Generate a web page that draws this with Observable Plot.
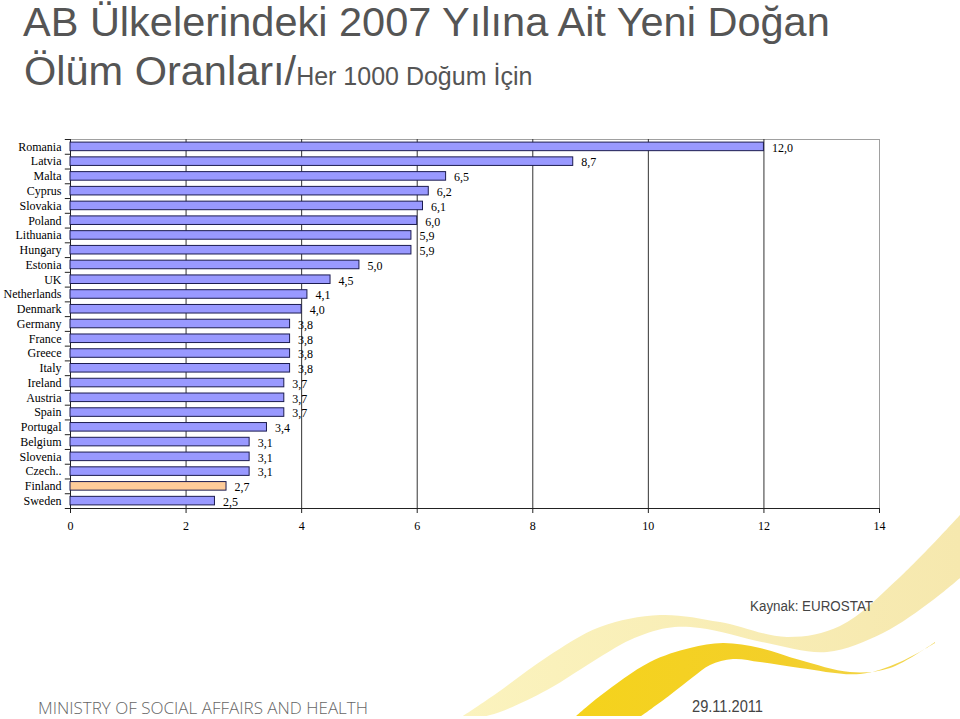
<!DOCTYPE html>
<html>
<head>
<meta charset="utf-8">
<script src="https://cdn.jsdelivr.net/npm/d3@7"></script>
<script src="https://cdn.jsdelivr.net/npm/@observablehq/plot@0.6"></script>
<style>
  html, body { margin: 0; padding: 0; background: #fff; }
  #wrap { position: relative; width: 960px; height: 719px; overflow: hidden; }
  #decor, #chart { position: absolute; left: 0; top: 0; }
  #chart svg { display: block; }
</style>
</head>
<body>
<div id="wrap">
  <svg id="decor" width="960" height="719"></svg>
  <div id="chart"></div>
</div>
<script>
// ---- data ----
const countries = ["Romania","Latvia","Malta","Cyprus","Slovakia","Poland","Lithuania","Hungary","Estonia","UK","Netherlands","Denmark","Germany","France","Greece","Italy","Ireland","Austria","Spain","Portugal","Belgium","Slovenia","Czech..","Finland","Sweden"];
const values = [12.0, 8.7, 6.5, 6.2, 6.1, 6.0, 5.9, 5.9, 5.0, 4.5, 4.1, 4.0, 3.8, 3.8, 3.8, 3.8, 3.7, 3.7, 3.7, 3.4, 3.1, 3.1, 3.1, 2.7, 2.5];
const highlighted = ["Finland"];
const xTicks = [0, 2, 4, 6, 8, 10, 12, 14];
const gridValues = [2, 4, 6, 8, 10, 12];

const titleLine1 = "AB Ülkelerindeki 2007 Yılına Ait Yeni Doğan";
const titleLine2 = "Ölüm Oranları/";
const titleLine2b = "Her 1000 Doğum İçin";
const sourceText = "Kaynak: EUROSTAT";
const dateText = "29.11.2011";
const ministryText = "MINISTRY OF SOCIAL AFFAIRS AND HEALTH";

const data = countries.map((c, i) => ({
  country: c,
  value: values[i],
  group: highlighted.includes(c) ? "highlight" : "normal"
}));

// ---- layout ----
const W = 960, H = 560, mT = 139, mB = 52, mL = 70, mR = 81;
const step = (H - mT - mB) / countries.length;
const serif = "'Liberation Serif', 'Times New Roman', serif";

// ---- decoration (background swooshes + texts) ----
const decor = d3.select("#decor");
const defs = decor.append("defs");
const g1 = defs.append("linearGradient").attr("id", "lightG").attr("x1", "0").attr("x2", "1").attr("y1", "0").attr("y2", "0");
g1.append("stop").attr("offset", "0").attr("stop-color", "#FBF3BE");
g1.append("stop").attr("offset", "1").attr("stop-color", "#F6E8AE");
const g2 = defs.append("linearGradient").attr("id", "darkG").attr("x1", "0").attr("x2", "1").attr("y1", "0").attr("y2", "0");
g2.append("stop").attr("offset", "0").attr("stop-color", "#F5D31C");
g2.append("stop").attr("offset", "0.6").attr("stop-color", "#F3CF2A");
g2.append("stop").attr("offset", "1").attr("stop-color", "#F2D85A");

const curve = d3.line().curve(d3.curveCatmullRom.alpha(0.5));
function band(upper, lower) {
  return curve(upper) + "L" + curve(lower).slice(1) + "Z";
}
const lightUpper = [[463,716],[497,693],[547,657],[600,627],[660,615],[720,622],[787,637],[840,626],[900,577],[960,515]];
const lightLower = [[960,578],[933,600],[883,633],[827,652],[767,643],[700,628],[667,628],[630,640],[600,657],[547,690],[500,712],[482,717]];
decor.append("path").attr("d", band(lightUpper, lightLower)).attr("fill", "url(#lightG)");
const darkUpper = [[575,717],[600,696],[650,662],[690,648],[723,643],[760,648],[800,660],[850,672],[890,668],[935,642]];
const darkLower = [[935,643],[900,662],[860,674],[800,668],[760,662],[733,659],[710,665],[693,677],[670,695],[640,717]];
decor.append("path").attr("d", band(darkUpper, darkLower)).attr("fill", "url(#darkG)");
decor.append("rect").attr("x", 0).attr("y", 716).attr("width", 960).attr("height", 3).attr("fill", "#fff");

const sans = "'Liberation Sans', Arial, sans-serif";
decor.append("text").attr("x", 23).attr("y", 36).attr("font-family", sans).attr("font-size", 41.5).attr("fill", "#555").text(titleLine1);
const t2 = decor.append("text").attr("x", 24).attr("y", 85).attr("font-family", sans).attr("fill", "#555");
t2.append("tspan").attr("font-size", 41.5).text(titleLine2);
t2.append("tspan").attr("font-size", 25).text(titleLine2b);
decor.append("text").attr("x", 750).attr("y", 611).attr("font-family", sans).attr("font-size", 14).attr("fill", "#444")
  .attr("textLength", 123).attr("lengthAdjust", "spacingAndGlyphs").text(sourceText);
decor.append("text").attr("x", 692).attr("y", 712).attr("font-family", sans).attr("font-size", 16).attr("fill", "#444")
  .attr("textLength", 71).attr("lengthAdjust", "spacingAndGlyphs").text(dateText);
decor.append("text").attr("x", 38).attr("y", 714).attr("font-family", "'Open Sans', sans-serif").attr("font-weight", 300)
  .attr("font-size", 17).attr("fill", "#666").attr("textLength", 330).attr("lengthAdjust", "spacingAndGlyphs").text(ministryText);

// ---- chart ----
const chart = Plot.plot({
  width: W, height: H,
  marginTop: mT, marginBottom: mB, marginLeft: mL, marginRight: mR,
  style: { fontFamily: serif, fontSize: "12px", background: "transparent", color: "#000", overflow: "visible" },
  x: { domain: [0, 14], label: null },
  y: { domain: countries, paddingInner: 0.42, paddingOuter: 0.21, round: false, label: null },
  color: { domain: ["normal", "highlight"], range: ["#9999FF", "#FFCC99"] },
  marks: [
    Plot.frame({ stroke: "#a0a0a0" }),
    Plot.ruleX(gridValues, { stroke: "#333" }),
    Plot.ruleX([0], { stroke: "#222" }),
    Plot.ruleY([countries[countries.length - 1]], { dy: step / 2, stroke: "#222" }),
    Plot.ruleY(countries, { x1: -0.09, x2: 0, dy: -step / 2, stroke: "#222" }),
    Plot.ruleY([countries[countries.length - 1]], { x1: -0.09, x2: 0, dy: step / 2, stroke: "#222" }),
    Plot.axisX({ ticks: xTicks, tickSize: 5, tickPadding: 8, tickFormat: d => String(d), fontSize: 12, fontFamily: serif, stroke: "#222", label: null }),
    Plot.axisY({ tickSize: 0, tickPadding: 9, fontSize: 12, fontFamily: serif, label: null }),
    Plot.barX(data, { x: "value", y: "country", fill: "group", stroke: "#1c1c50", strokeWidth: 1 }),
    Plot.text(data, { x: "value", y: "country", text: d => d.value.toFixed(1).replace(".", ","), dx: 8, dy: 1, textAnchor: "start", fontSize: 12, fontFamily: serif, fill: "#000" })
  ]
});
document.getElementById("chart").appendChild(chart);
</script>
</body>
</html>
